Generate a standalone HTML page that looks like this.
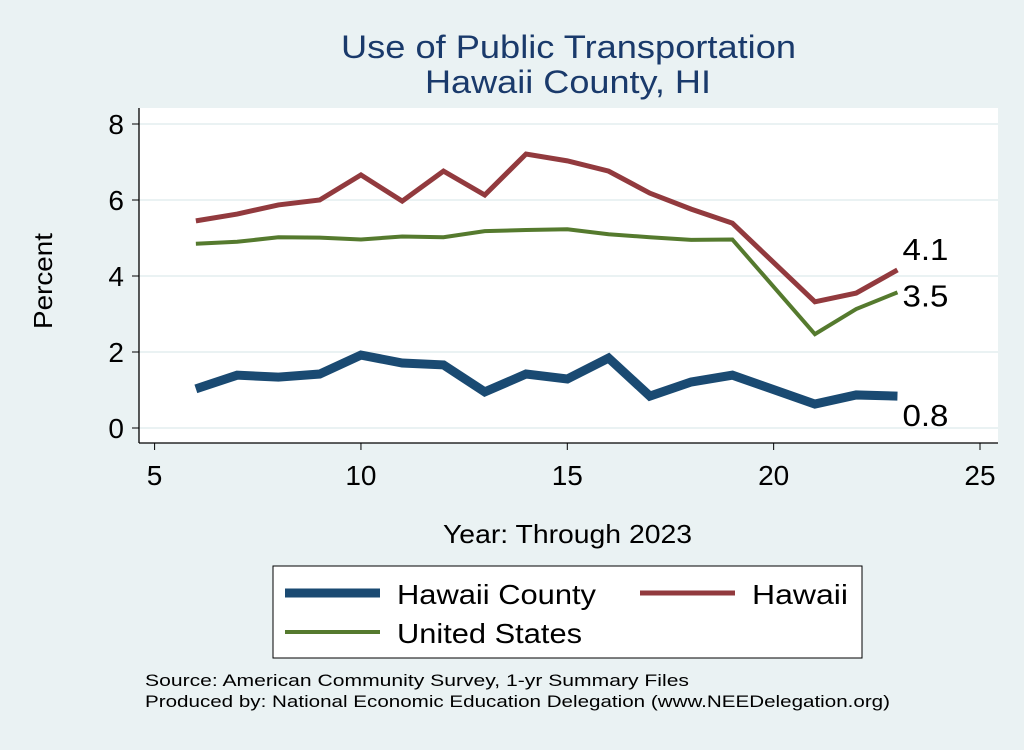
<!DOCTYPE html>
<html><head><meta charset="utf-8"><style>
body{margin:0;background:#eaf2f3;font-family:"Liberation Sans",sans-serif}
</style></head><body>
<svg width="1024" height="745" xmlns="http://www.w3.org/2000/svg" font-family="Liberation Sans, sans-serif">
<rect width="1024" height="745" fill="#eaf2f3"/>
<text x="341" y="58" font-size="32" fill="#1a3a6b" textLength="455" lengthAdjust="spacingAndGlyphs">Use of Public Transportation</text>
<text x="425" y="93" font-size="32" fill="#1a3a6b" textLength="286" lengthAdjust="spacingAndGlyphs">Hawaii County, HI</text>
<rect x="139" y="108" width="859" height="335" fill="#fff"/>
<g id="grid"></g>
<line x1="139" y1="108" x2="139" y2="443" stroke="#000" stroke-width="1.3"/>
<line x1="139" y1="443" x2="998" y2="443" stroke="#000" stroke-width="1.3"/>
<g id="ticks"></g>
<g id="series"></g>
<text x="0" y="0" font-size="26" textLength="96" lengthAdjust="spacingAndGlyphs" transform="translate(52 329) rotate(-90)">Percent</text>
<text x="443" y="543" font-size="26" textLength="249" lengthAdjust="spacingAndGlyphs">Year: Through 2023</text>
<g>
<rect x="273" y="566" width="589" height="92" fill="#fff" stroke="#000" stroke-width="1"/>
<line x1="285" y1="593" x2="380" y2="593" stroke="#1a4a72" stroke-width="9"/>
<text x="397" y="604" font-size="28" textLength="199" lengthAdjust="spacingAndGlyphs">Hawaii County</text>
<line x1="640" y1="593" x2="735" y2="593" stroke="#923a3e" stroke-width="5"/>
<text x="752" y="604" font-size="28" textLength="96" lengthAdjust="spacingAndGlyphs">Hawaii</text>
<line x1="285" y1="632" x2="380" y2="632" stroke="#557a2e" stroke-width="4"/>
<text x="397" y="643" font-size="28" textLength="185" lengthAdjust="spacingAndGlyphs">United States</text>
</g>
<text x="145" y="686" font-size="17" textLength="544" lengthAdjust="spacingAndGlyphs">Source: American Community Survey, 1-yr Summary Files</text>
<text x="145" y="707" font-size="17" textLength="745" lengthAdjust="spacingAndGlyphs">Produced by: National Economic Education Delegation (www.NEEDelegation.org)</text>
</svg>
<script>
const years=[6,7,8,9,10,11,12,13,14,15,16,17,18,19,21,22,23];
const county=[1.03,1.39,1.34,1.42,1.92,1.71,1.66,0.95,1.42,1.29,1.84,0.84,1.21,1.39,0.63,0.87,0.84];
const hawaii=[5.45,5.63,5.87,6.0,6.66,5.97,6.76,6.13,7.21,7.03,6.76,6.18,5.76,5.39,3.32,3.55,4.16];
const us=[4.85,4.9,5.02,5.01,4.96,5.04,5.02,5.18,5.21,5.23,5.1,5.02,4.95,4.96,2.47,3.13,3.57];
const xTicks=[5,10,15,20,25];
const yTicks=[0,2,4,6,8];
const endLabels=["0.8","4.1","3.5"];
const NS="http://www.w3.org/2000/svg";
const X=v=>154.6+(v-5)*(980-154.6)/20;
const Y=v=>428-v*(428-124)/8;
function mk(t,a,p){const e=document.createElementNS(NS,t);for(const k in a)e.setAttribute(k,a[k]);p.appendChild(e);return e;}
const grid=document.getElementById('grid'),ticks=document.getElementById('ticks'),ser=document.getElementById('series');
yTicks.forEach(v=>{
 const g=mk('line',{x1:139,x2:998,y1:Y(v),y2:Y(v),stroke:'#eaf2f3','stroke-width':2},grid);
 
 
 const t=mk('line',{x1:132,x2:139,y1:Y(v),y2:Y(v),stroke:'#000'},ticks);
 
 
 const l=mk('text',{x:124,y:Y(v)+10,'font-size':28,'text-anchor':'end'},ticks);l.textContent=v;
 
 
});
xTicks.forEach(v=>{
 const t=mk('line',{x1:X(v),x2:X(v),y1:443,y2:450,stroke:'#000'},ticks);
 
 
 const l=mk('text',{x:X(v),y:485,'font-size':28,'text-anchor':'middle'},ticks);l.textContent=v;
 
 
});
function line(vals,color,w,name){
 const p=mk('polyline',{points:years.map((y,i)=>X(y)+','+Y(vals[i])).join(' '),fill:'none',stroke:color,'stroke-width':w,'stroke-linejoin':'miter'},ser);
 
 
}
line(us,'#557a2e',4,'us-line');
line(hawaii,'#923a3e',5,'hawaii-line');
line(county,'#1a4a72',9,'hawaii-county-line');
const n=years.length-1;
[[county,30,endLabels[0]],[hawaii,-10,endLabels[1]],[us,14,endLabels[2]]].forEach(([s,dy,txt])=>{
 const t=mk('text',{x:X(years[n])+5,y:Y(s[n])+dy,'font-size':31,textLength:46,lengthAdjust:'spacingAndGlyphs'},ser);
 t.textContent=txt;
 
 
});
</script>
</body></html>
